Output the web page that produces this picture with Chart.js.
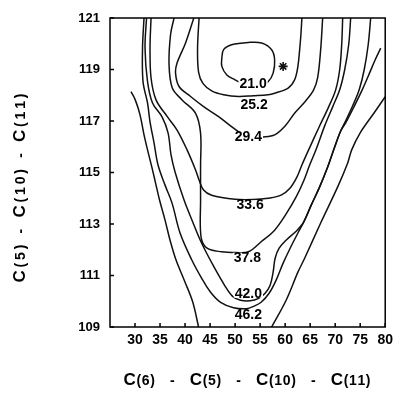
<!DOCTYPE html>
<html>
<head>
<meta charset="utf-8">
<script src="https://cdn.jsdelivr.net/npm/chart.js@4/dist/chart.umd.min.js"></script>
<style>
  html, body { margin: 0; padding: 0; background: #fff; }
  #wrap { width: 398px; height: 395px; }
</style>
</head>
<body>
<div id="wrap"><canvas id="contourChart" width="398" height="395"></canvas></div>
<script>
const xTicks = [30, 35, 40, 45, 50, 55, 60, 65, 70, 75, 80];
const yTicks = [109, 111, 113, 115, 117, 119, 121];

const levels = ['21.0', '25.2', '29.4', '33.6', '37.8', '42.0', '46.2'];
const levelLabelAt = [
  [53.6, 118.47], [53.8, 117.64], [52.65, 116.39], [53.0, 113.74],
  [52.45, 111.71], [52.65, 110.31], [52.65, 109.47]
];

// contour lines, [x, y]
const level21 = [
  [51.0, 118.49], [50.0, 118.60], [48.35, 118.79], [47.35, 119.12], [47.35, 119.44],
  [47.7, 119.77], [49.3, 119.96], [52.65, 120.05], [55.3, 120.03], [57.3, 119.77],
  [57.9, 119.38], [57.6, 118.86], [56.6, 118.53], [55.0, 118.41], [53.0, 118.41], [51.0, 118.49]
];
const level25 = [
  [42.8, 121.0], [42.5, 119.84], [42.7, 118.9], [43.6, 118.45], [45.4, 118.16],
  [47.7, 118.02], [50.7, 117.95], [53.6, 117.98], [56.6, 118.02], [57.9, 118.08],
  [60.6, 118.28], [61.9, 118.60], [62.55, 119.12], [62.9, 119.77], [63.15, 120.35], [63.35, 121.0]
];
const level29 = [
  [41.75, 121.0], [40.1, 120.03], [38.4, 119.25], [38.1, 118.86], [38.8, 118.34],
  [41.1, 117.95], [43.7, 117.56], [46.7, 117.17], [49.7, 116.72], [51.7, 116.46],
  [53.6, 116.38], [55.6, 116.38], [57.9, 116.46], [60.0, 116.81], [61.96, 117.32],
  [64.1, 117.78], [65.7, 118.21], [66.5, 118.68], [67.1, 119.77], [67.5, 121.0]
];
const level33 = [
  [33.2, 121.0], [33.0, 119.84], [33.2, 118.68], [34.2, 117.82], [36.45, 117.17],
  [38.4, 116.65], [40.4, 115.88], [42.1, 115.10], [42.8, 114.71], [43.7, 114.32],
  [45.3, 114.12], [50.0, 113.96], [53.6, 113.95], [56.6, 114.00], [59.2, 114.12],
  [61.0, 114.40], [62.35, 114.82], [63.35, 115.29], [64.7, 115.88], [66.7, 116.73],
  [68.7, 117.55], [70.1, 118.21], [70.9, 118.99], [71.3, 119.96], [71.5, 121.0]
];
const level37 = [
  [37.8, 121.0], [37.1, 120.35], [36.8, 119.18], [37.45, 118.28], [39.4, 117.82],
  [42.1, 117.30], [43.1, 116.53], [43.1, 115.29], [43.1, 113.93], [43.2, 112.49],
  [44.4, 112.06], [47.3, 111.92], [50.1, 111.89], [52.65, 111.92], [55.2, 112.31],
  [57.9, 112.76], [60.2, 113.39], [62.2, 114.05], [63.7, 114.67], [64.9, 115.29],
  [66.3, 115.95], [67.9, 116.81], [69.5, 117.55], [70.9, 118.21], [71.9, 118.99],
  [72.7, 119.96], [73.1, 121.0]
];
const level42 = [
  [32.3, 121.0], [32.0, 119.84], [32.5, 118.53], [33.5, 117.70], [35.4, 117.16],
  [36.6, 116.54], [37.2, 115.68], [38.0, 115.02], [39.8, 113.93], [41.55, 113.07],
  [43.3, 112.26], [45.7, 111.36], [47.9, 110.62], [49.5, 110.19], [51.1, 110.04],
  [53.0, 110.02], [54.6, 110.10], [56.0, 110.31], [57.0, 110.62], [57.6, 111.13],
  [58.0, 111.67], [58.8, 112.06], [60.4, 112.41], [62.2, 112.72], [63.7, 113.07],
  [65.3, 113.77], [66.9, 114.44], [68.5, 115.21], [69.9, 115.99], [71.1, 116.61],
  [71.9, 116.93], [73.5, 117.59], [74.8, 118.21], [75.8, 118.99], [76.6, 119.96], [77.1, 121.0]
];
const level46 = [
  [31.8, 121.0], [31.5, 119.84], [31.6, 118.53], [32.5, 117.70], [33.0, 116.97],
  [33.8, 116.15], [34.6, 115.29], [36.0, 114.51], [37.4, 113.81], [39.0, 112.65],
  [41.35, 111.60], [43.3, 110.90], [45.1, 110.35], [47.1, 109.96], [49.7, 109.75],
  [52.25, 109.71], [53.8, 109.81], [55.2, 109.96], [56.8, 110.31], [58.2, 110.82],
  [59.6, 111.48], [61.0, 112.06], [62.55, 112.65], [63.7, 113.07], [65.3, 113.77],
  [66.9, 114.44], [68.5, 115.21], [69.9, 115.99], [71.1, 116.61], [72.1, 116.93],
  [73.85, 117.59], [75.4, 118.21], [76.8, 118.83], [78.0, 119.38], [79.1, 119.83]
];
// outermost, unlabelled contour: leaves the plot at the bottom
const outerLeft = [
  [29.2, 118.14], [30.05, 117.82], [31.0, 117.24], [31.8, 116.46], [32.6, 115.80],
  [33.4, 115.18], [34.2, 114.51], [34.9, 113.93], [36.0, 113.15], [37.0, 112.37],
  [38.2, 111.60], [40.0, 110.74], [41.55, 109.96], [42.7, 109.0]
];
const outerRight = [
  [57.3, 109.0], [60.2, 110.04], [62.55, 111.13], [63.9, 111.67], [67.1, 113.04],
  [70.5, 114.44], [72.5, 115.37], [73.3, 115.88], [75.0, 116.54], [77.8, 117.32], [80.0, 117.94]
];
const optimum = [[59.6, 119.12]];

const xTitle = 'C(6) - C(5) - C(10) - C(11)';
const yTitle = 'C(5) - C(10) - C(11)';

const FONT = '"Liberation Sans", Arial, Helvetica, sans-serif';
const toPoints = arr => arr.map(p => ({ x: p[0], y: p[1] }));

const lines = [level21, level25, level29, level33, level37, level42, level46, outerLeft, outerRight];
const datasets = lines.map(l => ({
  data: toPoints(l),
  showLine: true,
  borderColor: '#111',
  borderWidth: 1.5,
  pointRadius: 0,
  tension: 0.35,
  fill: false
}));
datasets.push({
  data: toPoints(optimum),
  showLine: false,
  pointStyle: 'star',
  pointRadius: 4.5,
  borderColor: '#111',
  borderWidth: 1.6
});

// "C" large, the atom numbers smaller, tokens spread to the given width
function drawTitle(ctx, text, cx, cy, angle, gap, width) {
  const tokens = text.split(' - ');
  const fontFor = ch => 'bold ' + (ch === 'C' ? 17 : 14) + 'px ' + FONT;
  ctx.save();
  ctx.translate(cx, cy);
  ctx.rotate(angle);
  ctx.fillStyle = '#000';
  ctx.textBaseline = 'alphabetic';
  ctx.textAlign = 'left';
  let natural = gap * (tokens.length - 1);
  let inner = 0;
  tokens.forEach(t => {
    for (const ch of t) { ctx.font = fontFor(ch); natural += ctx.measureText(ch).width; }
    inner += t.length - 1;
  });
  const spacing = Math.max(0, (width - natural) / inner);
  let pos = -width / 2;
  tokens.forEach((t, i) => {
    [...t].forEach((ch, j) => {
      ctx.font = fontFor(ch);
      ctx.fillText(ch, pos, 6);
      pos += ctx.measureText(ch).width + (j < t.length - 1 ? spacing : 0);
    });
    if (i < tokens.length - 1) {
      ctx.font = fontFor('-');
      const hw = ctx.measureText('-').width;
      ctx.fillText('-', pos + (gap - hw) / 2, 6);
      pos += gap;
    }
  });
  ctx.restore();
}

const framePlugin = {
  id: 'frame',
  afterDatasetsDraw(chart) {
    const { ctx, chartArea: a, scales: { x, y } } = chart;
    ctx.save();
    ctx.strokeStyle = '#000';
    ctx.lineWidth = 1.5;
    ctx.strokeRect(a.left, a.top, a.right - a.left, a.bottom - a.top);
    ctx.beginPath();
    xTicks.forEach(v => {
      const px = x.getPixelForValue(v);
      ctx.moveTo(px, a.bottom);
      ctx.lineTo(px, a.bottom - 4);
    });
    yTicks.forEach(v => {
      const py = y.getPixelForValue(v);
      ctx.moveTo(a.left, py);
      ctx.lineTo(a.left + 4, py);
    });
    ctx.stroke();

    ctx.font = 'bold 14px ' + FONT;
    ctx.textAlign = 'center';
    ctx.textBaseline = 'middle';
    levels.forEach((t, i) => {
      const px = x.getPixelForValue(levelLabelAt[i][0]);
      const py = y.getPixelForValue(levelLabelAt[i][1]);
      const w = ctx.measureText(t).width;
      ctx.fillStyle = '#fff';
      ctx.fillRect(px - w / 2 - 1, py - 4.5, w + 2, 9);
      ctx.fillStyle = '#000';
      ctx.fillText(t, px, py + 0.5);
    });
    ctx.restore();
  },
  afterDraw(chart) {
    const { ctx } = chart;
    drawTitle(ctx, xTitle, 247, 379, 0, 35, 247);
    drawTitle(ctx, yTitle, 19, 188, -Math.PI / 2, 27, 189);
  }
};

new Chart(document.getElementById('contourChart'), {
  type: 'scatter',
  data: { datasets: datasets },
  options: {
    responsive: false,
    animation: false,
    layout: { padding: { top: 18, right: 10, left: 0, bottom: 0 } },
    plugins: { legend: { display: false }, tooltip: { enabled: false } },
    scales: {
      x: {
        type: 'linear',
        min: 25,
        max: 80,
        afterBuildTicks: s => { s.ticks = xTicks.map(v => ({ value: v })); },
        afterFit: s => { s.height = 68; },
        grid: { display: false, drawTicks: false },
        border: { display: false },
        ticks: { color: '#000', padding: 5, maxRotation: 0, font: { family: FONT, size: 14, weight: 'bold' } }
      },
      y: {
        type: 'linear',
        min: 109,
        max: 121,
        afterBuildTicks: s => { s.ticks = yTicks.map(v => ({ value: v })); },
        afterFit: s => { s.width = 110; },
        grid: { display: false, drawTicks: false },
        border: { display: false },
        ticks: { color: '#000', padding: 10, font: { family: FONT, size: 13, weight: 'bold' } }
      }
    }
  },
  plugins: [framePlugin]
});
</script>
</body>
</html>
